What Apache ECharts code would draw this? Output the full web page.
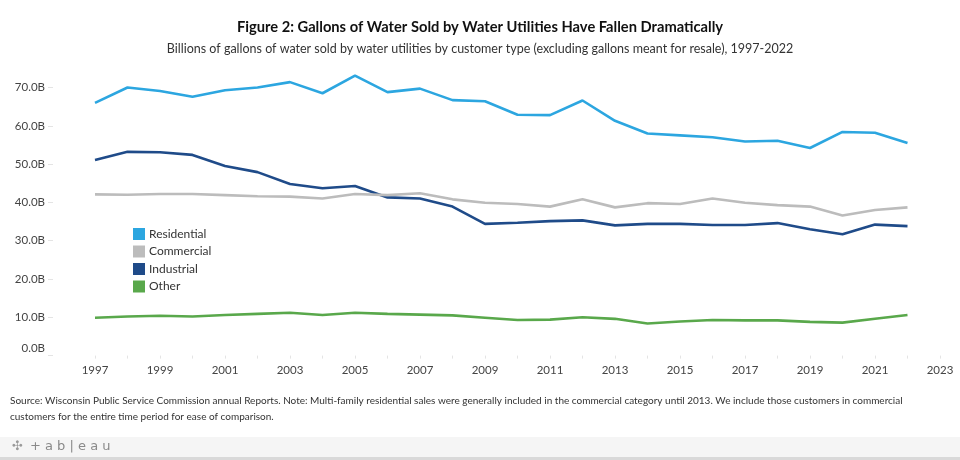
<!DOCTYPE html>
<html><head><meta charset="utf-8">
<script src="https://cdn.jsdelivr.net/npm/echarts@6/dist/echarts.min.js"></script>
<style>html,body{margin:0;padding:0;background:#fff}#c{width:960px;height:460px}</style>
</head><body><div id="c"></div>
<script>
const years = [1997,1998,1999,2000,2001,2002,2003,2004,2005,2006,2007,2008,2009,2010,2011,2012,2013,2014,2015,2016,2017,2018,2019,2020,2021,2022];
const residential = [66.0,70.0,69.1,67.6,69.3,70.0,71.4,68.5,73.1,68.8,69.7,66.7,66.4,62.9,62.8,66.6,61.3,58.0,57.5,57.0,55.9,56.1,54.2,58.4,58.2,55.5];
const commercial = [42.1,42.0,42.2,42.2,41.9,41.6,41.5,41.0,42.2,41.9,42.4,40.8,39.9,39.6,38.9,40.8,38.7,39.8,39.6,41.0,39.9,39.3,38.9,36.6,38.0,38.7];
const industrial = [51.1,53.2,53.1,52.4,49.5,47.9,44.8,43.7,44.3,41.3,41.0,38.9,34.4,34.7,35.1,35.3,34.0,34.4,34.4,34.1,34.1,34.6,33.0,31.7,34.2,33.8];
const other = [9.9,10.2,10.4,10.2,10.6,10.9,11.2,10.6,11.2,10.9,10.7,10.5,9.9,9.3,9.4,10.0,9.6,8.4,8.9,9.3,9.2,9.2,8.8,8.6,9.6,10.6];
const seriesNames = ['Residential','Commercial','Industrial','Other'];
const seriesColors = ['#2ca6e0','#bcbcbc','#1f4b89','#59a84b'];

const FONT = 'Lato';
const pairs = arr => years.map((y,i)=>[y,arr[i]]);
const allData = [residential, commercial, industrial, other];

const chart = echarts.init(document.getElementById('c'), null, {renderer:'canvas'});
chart.setOption({
  animation:false,
  backgroundColor:'#ffffff',
  textStyle:{fontFamily:FONT},
  title:[
    {text:'Figure 2: Gallons of Water Sold by Water Utilities Have Fallen Dramatically', left:'center', top:15,
     textStyle:{fontFamily:FONT, fontSize:14.7, fontWeight:'bold', color:'#111'}},
    {text:'Billions of gallons of water sold by water utilities by customer type (excluding gallons meant for resale), 1997-2022', left:'center', top:37,
     textStyle:{fontFamily:FONT, fontSize:12.5, fontWeight:'normal', color:'#333'}}
  ],
  legend:{
    orient:'vertical', left:133, top:228, padding:0, icon:'rect', itemWidth:12, itemHeight:12, itemGap:5.5,
    textStyle:{fontFamily:FONT, fontSize:12, color:'#333', padding:[0,0,0,-1]},
    data:seriesNames
  },
  grid:{left:95, right:20, top:49.2, bottom:104.4},
  xAxis:{
    type:'value', min:1997, max:2023, interval:1,
    axisLine:{show:false},
    axisTick:{show:true, length:3, lineStyle:{color:'#e4e4e4'}},
    splitLine:{show:false},
    axisLabel:{margin:9, fontFamily:FONT, fontSize:11.5, color:'#444',
      formatter:v => (v % 2 === 1 ? String(v) : '')}
  },
  yAxis:{
    type:'value', min:0, max:80, interval:10, offset:47,
    axisLine:{show:false},
    axisTick:{show:true, inside:true, length:5, lineStyle:{color:'#e4e4e4'}},
    splitLine:{show:false},
    axisLabel:{showMaxLabel:false, margin:3, fontFamily:FONT, fontSize:11.5, color:'#444',
      formatter:v => v === 0 ? '{z|0.0B}' : '{a|' + v.toFixed(1) + 'B}',
      rich:{z:{fontFamily:FONT, fontSize:11.5, color:'#444', padding:[0,0,14,0]}, a:{fontFamily:FONT, fontSize:11.5, color:'#444'}}}
  },
  series: seriesNames.map((n,i)=>({
    name:n, type:'line', data:pairs(allData[i]), showSymbol:false, symbol:'none',
    lineStyle:{width:2.6, color:seriesColors[i]}, itemStyle:{color:seriesColors[i]}, z: 10-i
  })),
  graphic:[
    {type:'text', left:10, top:396, style:{text:'Source: Wisconsin Public Service Commission annual Reports. Note: Multi-family residential sales were generally included in the commercial category until 2013. We include those customers in commercial', font:'10px Lato', fill:'#333'}},
    {type:'text', left:10, top:412, style:{text:'customers for the entire time period for ease of comparison.', font:'10px Lato', fill:'#333'}},
    {type:'rect', left:0, top:437, shape:{width:960, height:21}, style:{fill:'#f5f5f5'}},
    {type:'rect', left:0, top:457, shape:{width:960, height:3}, style:{fill:'#d9d9d9'}},
    {type:'text', left:12, top:440, style:{text:'✣', font:'13px "DejaVu Sans"', fill:'#9a9a9a'}},
    {type:'text', left:30, top:440, style:{text:'+ a b | e a u', font:'13px "DejaVu Sans"', fill:'#8a8a8a'}}
  ]
});
</script></body></html>
